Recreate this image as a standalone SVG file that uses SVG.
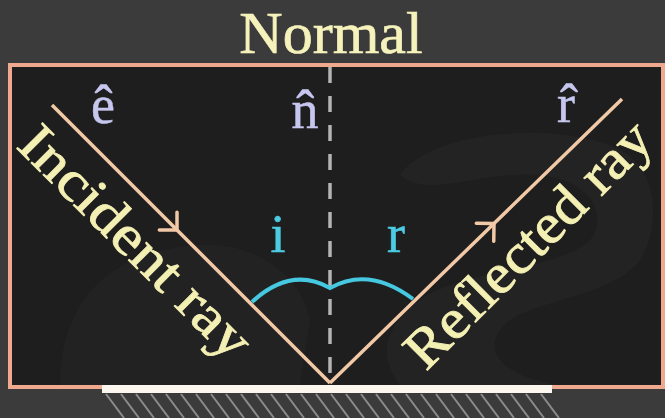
<svg xmlns="http://www.w3.org/2000/svg" width="665" height="418" viewBox="0 0 665 418">
  <style>
    .serif { font-family: "Liberation Serif", "DejaVu Serif", serif; }
    .title { font-size: 60px; fill: #f6f2bc; stroke: #f6f2bc; stroke-width: 0.7px; }
    .raylabel { font-size: 56px; fill: #f4f0b4; stroke: #f4f0b4; stroke-width: 0.8px; }
    .vec { font-size: 54px; fill: #c6c6ee; stroke: #c6c6ee; stroke-width: 0.5px; }
    .ang { font-size: 54px; fill: #4ccbe2; stroke: #4ccbe2; stroke-width: 0.6px; }
    .ray { fill: none; stroke: #f2c9a6; stroke-width: 3.5; marker-mid: url(#chev); }
    .normal { stroke: #b4b4b4; stroke-width: 3.5; stroke-dasharray: 16 13; }
    .hatch { stroke: #8c8c8c; stroke-width: 2; }
  </style>
  <defs>
    <marker id="chev" viewBox="-16 -16 20 32" markerWidth="20" markerHeight="32" refX="0" refY="0" orient="auto" markerUnits="userSpaceOnUse">
      <path d="M-12.5,-12.5 L0,0 L-12.5,12.5" fill="none" stroke="#f2c9a6" stroke-width="3.5" stroke-linecap="round" stroke-linejoin="round"/>
    </marker>
  </defs>

  <!-- background -->
  <rect x="0" y="0" width="665" height="418" fill="#3b3b3b"/>

  <!-- frame -->
  <g id="frame">
    <rect x="10" y="65" width="653" height="322" fill="#1e1e1e" stroke="#f0a98f" stroke-width="4"/>
    <path d="M400,175 C430,130 560,120 620,150 C660,170 660,230 640,260 C610,300 520,300 500,330 C480,360 520,380 560,385 L400,385 C380,360 380,330 420,300 C460,270 560,270 590,240 C610,215 590,180 540,175 C480,170 430,200 400,175 Z" fill="#242424" opacity="0.8"/>
    <path d="M60,385 C60,300 110,250 200,245 C250,242 300,270 310,320 L300,385 Z" fill="#232323" opacity="0.7"/>
  </g>

  <!-- mirror -->
  <g id="mirror">
    <rect x="102" y="385" width="450" height="8" fill="#fbf6ee"/>
    <g class="hatch">
      <line x1="106" y1="394" x2="124" y2="418"/>
      <line x1="121" y1="394" x2="139" y2="418"/>
      <line x1="136" y1="394" x2="154" y2="418"/>
      <line x1="151" y1="394" x2="169" y2="418"/>
      <line x1="166" y1="394" x2="184" y2="418"/>
      <line x1="181" y1="394" x2="199" y2="418"/>
      <line x1="196" y1="394" x2="214" y2="418"/>
      <line x1="211" y1="394" x2="229" y2="418"/>
      <line x1="226" y1="394" x2="244" y2="418"/>
      <line x1="241" y1="394" x2="259" y2="418"/>
      <line x1="256" y1="394" x2="274" y2="418"/>
      <line x1="271" y1="394" x2="289" y2="418"/>
      <line x1="286" y1="394" x2="304" y2="418"/>
      <line x1="301" y1="394" x2="319" y2="418"/>
      <line x1="316" y1="394" x2="334" y2="418"/>
      <line x1="331" y1="394" x2="349" y2="418"/>
      <line x1="346" y1="394" x2="364" y2="418"/>
      <line x1="361" y1="394" x2="379" y2="418"/>
      <line x1="376" y1="394" x2="394" y2="418"/>
      <line x1="391" y1="394" x2="409" y2="418"/>
      <line x1="406" y1="394" x2="424" y2="418"/>
      <line x1="421" y1="394" x2="439" y2="418"/>
      <line x1="436" y1="394" x2="454" y2="418"/>
      <line x1="451" y1="394" x2="469" y2="418"/>
      <line x1="466" y1="394" x2="484" y2="418"/>
      <line x1="481" y1="394" x2="499" y2="418"/>
      <line x1="496" y1="394" x2="514" y2="418"/>
      <line x1="511" y1="394" x2="529" y2="418"/>
      <line x1="526" y1="394" x2="544" y2="418"/>
      <line x1="541" y1="394" x2="559" y2="418"/>
    </g>
  </g>

  <!-- connectors -->
  <g id="connectors">
    <line id="normal-line" class="normal" x1="330" y1="67" x2="330" y2="383"/>
    <path id="incident-ray" class="ray" d="M52,105 L177,230 L330,383"/>
    <path id="reflected-ray" class="ray" d="M330,383 L494,223.5 L622,99"/>
  </g>

  <!-- angle arcs -->
  <g id="angles">
    <path d="M252,302 Q291,266 330,288 Q369,266 413,299" fill="none" stroke="#45c8e0" stroke-width="4" stroke-linejoin="miter"/>
    <text class="serif ang" x="278" y="252" text-anchor="middle">i</text>
    <text class="serif ang" x="396" y="252" text-anchor="middle">r</text>
  </g>

  <!-- labels -->
  <g id="title">
    <text class="serif title" x="331" y="53" text-anchor="middle">Normal</text>
  </g>
  <g id="vec-e">
    <text class="serif vec" x="103" y="123" text-anchor="middle">ê</text>
  </g>
  <g id="vec-n">
    <text class="serif vec" x="305" y="128" text-anchor="middle">n̂</text>
  </g>
  <g id="vec-r">
    <text class="serif vec" x="566" y="122" text-anchor="middle">r̂</text>
  </g>
  <g id="incident-label">
    <text class="serif raylabel" transform="translate(15,147) rotate(45)" textLength="305" lengthAdjust="spacingAndGlyphs">Incident ray</text>
  </g>
  <g id="reflected-label">
    <text class="serif raylabel" transform="translate(426,372) rotate(-45)" textLength="325" lengthAdjust="spacingAndGlyphs">Reflected ray</text>
  </g>
</svg>
